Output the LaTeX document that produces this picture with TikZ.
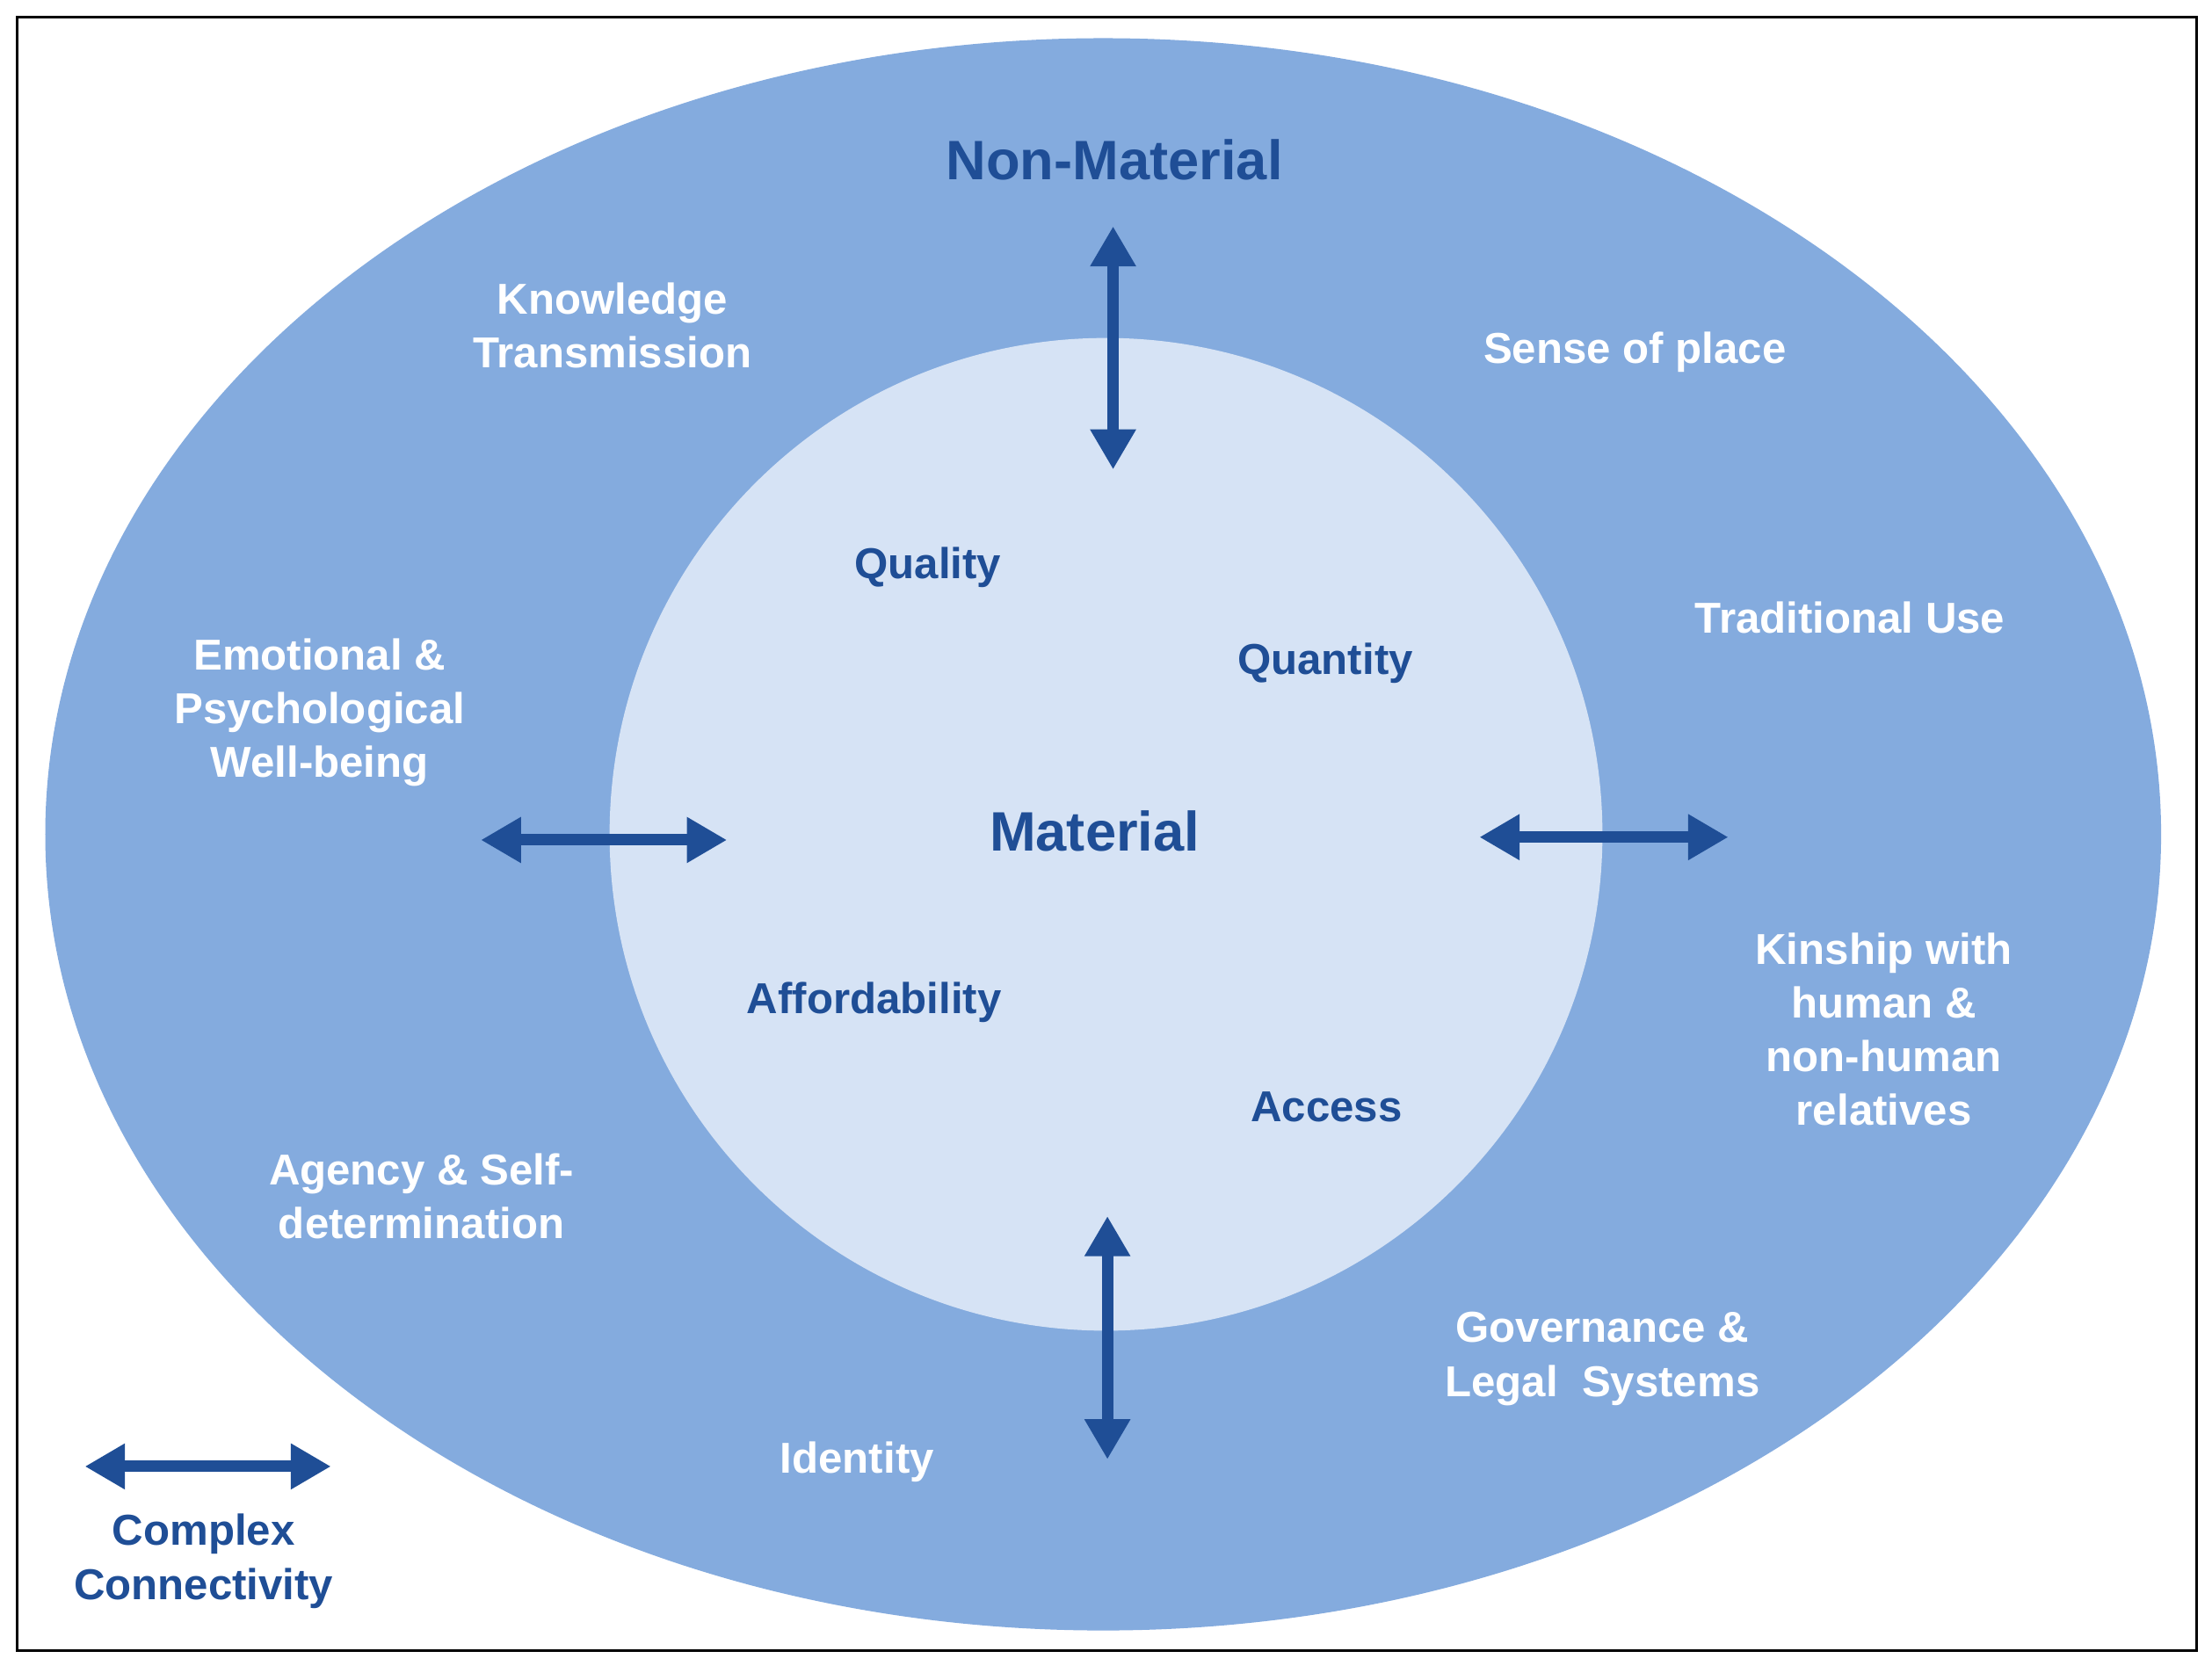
\documentclass[tikz,border=0pt]{standalone}
\usepackage{fontspec}
\setmainfont{Liberation Sans}
\usetikzlibrary{arrows.meta}
\definecolor{outerc}{HTML}{84ABDE}
\definecolor{innerc}{HTML}{D6E3F5}
\definecolor{darkc}{HTML}{1F4E96}
\begin{document}
\begin{tikzpicture}[x=0.016093cm,y=-0.016093cm,
  wl/.style={text=white,font=\fontsize{14}{17.4}\selectfont\bfseries,align=center},
  dl/.style={text=darkc,font=\fontsize{14}{17.4}\selectfont\bfseries,align=center},
  big/.style={text=darkc,font=\fontsize{18}{22}\selectfont\bfseries},
  conn/.style={draw=darkc,line width=3.7pt,{Triangle[length=13pt,width=14pt]}-{Triangle[length=13pt,width=14pt]}}]
\useasboundingbox (0,0) rectangle (1564,1183);
\draw[black,line width=0.8pt] (12,12) rectangle (1553,1167);
\fill[outerc] (780,590) ellipse [x radius=748, y radius=563];
\fill[innerc] (782,590) circle [radius=351];
\node[big] (nm) at (788,113) {Non-Material};
\node[big] (m) at (774,588) {Material};
\node[dl] (q) at (656,401) {Quality};
\node[dl] (qt) at (937,469) {Quantity};
\node[dl] (af) at (618,709) {Affordability};
\node[dl] (ac) at (938,783) {Access};
\node[wl] (kt) at (433,230) {Knowledge\\Transmission};
\node[wl] (sp) at (1156,249) {Sense of place};
\node[wl] (tu) at (1308,437) {Traditional Use};
\node[wl] (ep) at (226,504) {Emotional \&\\Psychological\\Well-being};
\node[wl] (ks) at (1332,728) {Kinship with\\human \&\\non-human\\relatives};
\node[wl] (as) at (298,846) {Agency \& Self-\\determination};
\node[wl] (gl) at (1133,961) {Governance \&\\Legal\ \ Systems};
\node[wl] (id) at (606,1034) {Identity};
\node[dl] (cc) at (144,1104) {Complex\\Connectivity};
\coordinate (t1) at (787,160); \coordinate (t2) at (787,332);
\coordinate (l1) at (340,594); \coordinate (l2) at (514,594);
\coordinate (r1) at (1046,592); \coordinate (r2) at (1222,592);
\coordinate (b1) at (783,860); \coordinate (b2) at (783,1032);
\coordinate (g1) at (60,1037); \coordinate (g2) at (234,1037);
\draw[conn] (t1) -- (t2);
\draw[conn] (l1) -- (l2);
\draw[conn] (r1) -- (r2);
\draw[conn] (b1) -- (b2);
\draw[conn] (g1) -- (g2);
\end{tikzpicture}
\end{document}
